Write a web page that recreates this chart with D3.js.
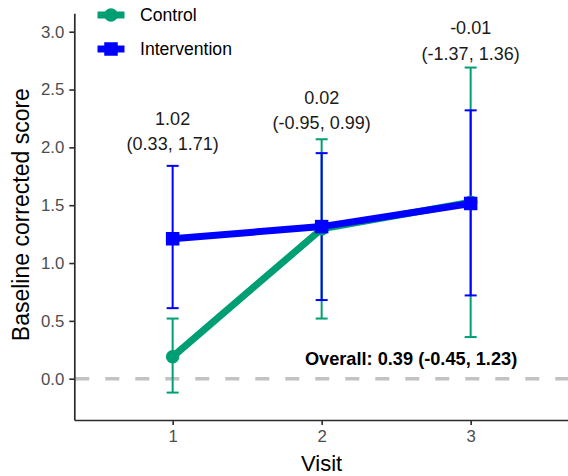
<!DOCTYPE html>
<html>
<head>
<meta charset="utf-8">
<script src="https://cdn.jsdelivr.net/npm/d3@7"></script>
<style>
  html, body { margin: 0; padding: 0; background: #fff; }
  svg { display: block; font-family: "Liberation Sans", Arial, sans-serif; }
</style>
</head>
<body>
<svg id="chart" width="568" height="476"></svg>
<script>
// Visits on the x axis
const visits = [1, 2, 3];

// Group means and 95% CIs of the baseline corrected score
const controlMean  = [0.19, 1.295, 1.525];
const controlLower = [-0.12, 0.52, 0.36];
const controlUpper = [0.52, 2.07, 2.69];

const interventionMean  = [1.21, 1.315, 1.515];
const interventionLower = [0.61, 0.68, 0.72];
const interventionUpper = [1.84, 1.95, 2.32];

// Between-group differences per visit (estimate and CI)
const diffEstimate = ["1.02", "0.02", "-0.01"];
const diffCI = ["(0.33, 1.71)", "(-0.95, 0.99)", "(-1.37, 1.36)"];
const diffLabelY = [2.03, 2.21, 2.81];

// Pooled difference over all visits
const overallLabel = "Overall: 0.39 (-0.45, 1.23)";
const overallX = 2.6;
const overallY = 0.17;

const yTicks = [0, 0.5, 1, 1.5, 2, 2.5, 3];

const groupNames = ["Control", "Intervention"];
const groupColors = ["#009E73", "#0000FF"];

const svg = d3.select("#chart");

const x = d3.scaleLinear().domain([0.34, 3.66]).range([74.3, 569]);
const y = d3.scaleLinear().domain([-0.357, 3.159]).range([420, 13.3]);

function rows(mean, lower, upper) {
  return visits.map((v, i) => ({ visit: v, mean: mean[i], lower: lower[i], upper: upper[i] }));
}
const groups = [
  { name: groupNames[0], color: groupColors[0], data: rows(controlMean, controlLower, controlUpper) },
  { name: groupNames[1], color: groupColors[1], data: rows(interventionMean, interventionLower, interventionUpper) }
];

// Reference line at zero
svg.append("line")
  .attr("x1", x.range()[0] + 1).attr("x2", 568)
  .attr("y1", y(0)).attr("y2", y(0))
  .attr("stroke", "#c2c2c2")
  .attr("stroke-width", 3.4)
  .attr("stroke-dasharray", "14,16");

// Axes
const axisColor = "#2b2b2b";
const yAxis = svg.append("g")
  .attr("transform", `translate(${x.range()[0]},0)`)
  .call(d3.axisLeft(y).tickValues(yTicks).tickFormat(d3.format(".1f")).tickSize(5).tickSizeOuter(0).tickPadding(5));
const xAxis = svg.append("g")
  .attr("transform", `translate(0,${y.range()[0]})`)
  .call(d3.axisBottom(x).tickValues(visits).tickFormat(d3.format("d")).tickSize(5).tickSizeOuter(0).tickPadding(5));
[yAxis, xAxis].forEach(g => {
  g.select(".domain").attr("stroke", axisColor).attr("stroke-width", 1.7);
  g.selectAll(".tick line").attr("stroke", axisColor).attr("stroke-width", 1.6);
  g.selectAll(".tick text").attr("fill", "#4d4d4d").style("font-size", "16.8px")
    .style("font-family", "'Liberation Sans', Arial, sans-serif");
});

// Axis titles
svg.append("text")
  .attr("x", x(2)).attr("y", 471)
  .attr("text-anchor", "middle")
  .style("font-size", "22px").attr("fill", "#000")
  .text("Visit");
svg.append("text")
  .attr("transform", `translate(28.5,${(y.range()[0] + y.range()[1]) / 2 - 2}) rotate(-90)`)
  .attr("text-anchor", "middle")
  .style("font-size", "23px").attr("fill", "#000")
  .text("Baseline corrected score");

// Error bars
const capHalf = 6;
groups.forEach(g => {
  const eb = svg.append("g").attr("stroke", g.color).attr("stroke-width", 2).attr("fill", "none");
  g.data.forEach(d => {
    eb.append("line").attr("x1", x(d.visit)).attr("x2", x(d.visit)).attr("y1", y(d.lower)).attr("y2", y(d.upper));
    eb.append("line").attr("x1", x(d.visit) - capHalf).attr("x2", x(d.visit) + capHalf).attr("y1", y(d.lower)).attr("y2", y(d.lower));
    eb.append("line").attr("x1", x(d.visit) - capHalf).attr("x2", x(d.visit) + capHalf).attr("y1", y(d.upper)).attr("y2", y(d.upper));
  });
});

// Mean lines
const line = d3.line().x(d => x(d.visit)).y(d => y(d.mean));
groups.forEach(g => {
  svg.append("path").datum(g.data)
    .attr("d", line)
    .attr("fill", "none")
    .attr("stroke", g.color)
    .attr("stroke-width", 7);
});

// Mean markers: circle for Control, square for Intervention
const markerSize = 13.5;
groups.forEach((g, gi) => {
  g.data.forEach(d => {
    if (gi === 0) {
      svg.append("circle").attr("cx", x(d.visit)).attr("cy", y(d.mean)).attr("r", markerSize / 2).attr("fill", g.color);
    } else {
      svg.append("rect")
        .attr("x", x(d.visit) - markerSize / 2).attr("y", y(d.mean) - markerSize / 2)
        .attr("width", markerSize).attr("height", markerSize).attr("fill", g.color);
    }
  });
});

// Difference annotations above each visit
visits.forEach((v, i) => {
  const cy = y(diffLabelY[i]);
  svg.append("text")
    .attr("x", x(v)).attr("y", cy - 25.3)
    .attr("text-anchor", "middle").attr("dominant-baseline", "central")
    .style("font-size", "18px").attr("fill", "#1a1a1a")
    .text(diffEstimate[i]);
  svg.append("text")
    .attr("x", x(v)).attr("y", cy)
    .attr("text-anchor", "middle").attr("dominant-baseline", "central")
    .style("font-size", "18px").attr("fill", "#1a1a1a")
    .text(diffCI[i]);
});

// Overall difference
svg.append("text")
  .attr("x", x(overallX)).attr("y", y(overallY))
  .attr("text-anchor", "middle").attr("dominant-baseline", "central")
  .style("font-size", "18.2px").style("font-weight", "bold").attr("fill", "#000")
  .text(overallLabel);

// Legend
const legendY = [15, 49];
groups.forEach((g, gi) => {
  const lg = svg.append("g").attr("transform", `translate(0,${legendY[gi]})`);
  lg.append("line").attr("x1", 97.5).attr("x2", 124.5).attr("y1", 0).attr("y2", 0)
    .attr("stroke", g.color).attr("stroke-width", 7);
  if (gi === 0) {
    lg.append("circle").attr("cx", 111).attr("cy", 0).attr("r", markerSize / 2).attr("fill", g.color);
  } else {
    lg.append("rect").attr("x", 111 - markerSize / 2).attr("y", -markerSize / 2)
      .attr("width", markerSize).attr("height", markerSize).attr("fill", g.color);
  }
  lg.append("text").attr("x", 140).attr("y", 0)
    .attr("dominant-baseline", "central")
    .style("font-size", "17.6px").attr("fill", "#000")
    .text(g.name);
});
</script>
</body>
</html>
